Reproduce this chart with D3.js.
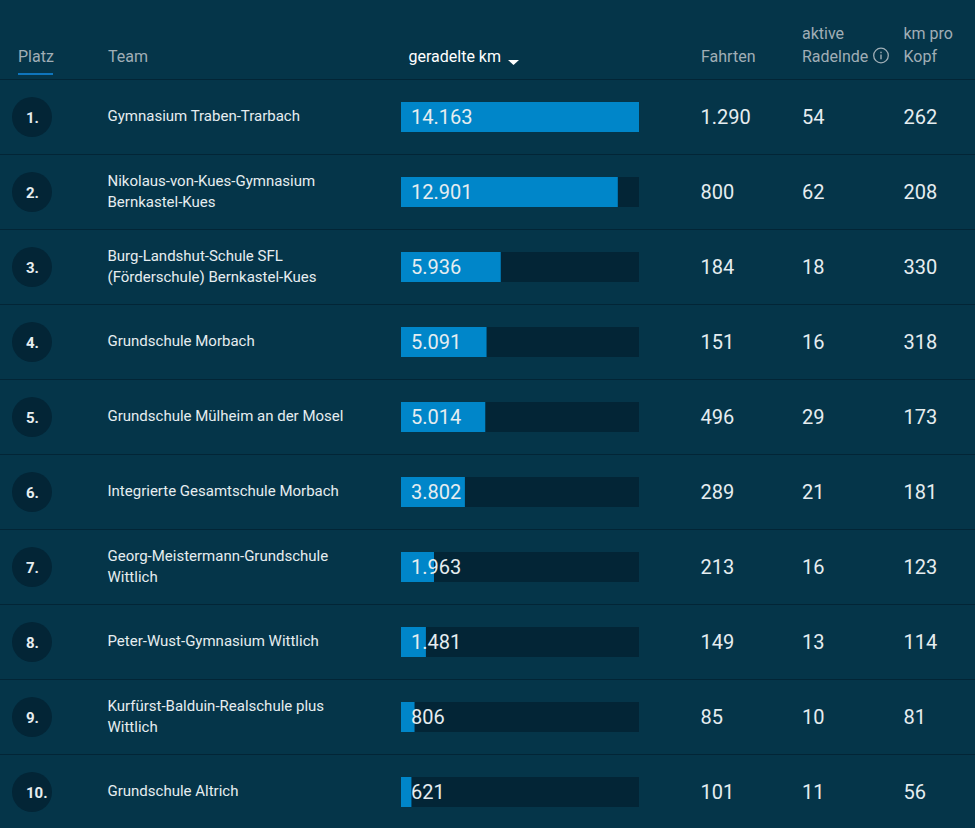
<!DOCTYPE html>
<html>
<head>
<meta charset="utf-8">
<script src="https://cdn.jsdelivr.net/npm/d3@7"></script>
<style>
html, body { margin: 0; padding: 0; background: #053549; overflow: hidden; }
text { font-family: Roboto, sans-serif; }
</style>
</head>
<body>
<div id="chart"></div>
<script>
const ranks = ["1.", "2.", "3.", "4.", "5.", "6.", "7.", "8.", "9.", "10."];
const teams = [
    ["Gymnasium Traben-Trarbach"],
    ["Nikolaus-von-Kues-Gymnasium", "Bernkastel-Kues"],
    ["Burg-Landshut-Schule SFL", "(Förderschule) Bernkastel-Kues"],
    ["Grundschule Morbach"],
    ["Grundschule Mülheim an der Mosel"],
    ["Integrierte Gesamtschule Morbach"],
    ["Georg-Meistermann-Grundschule", "Wittlich"],
    ["Peter-Wust-Gymnasium Wittlich"],
    ["Kurfürst-Balduin-Realschule plus", "Wittlich"],
    ["Grundschule Altrich"]
];
const km = [14163, 12901, 5936, 5091, 5014, 3802, 1963, 1481, 806, 621];
const fahrten = [1290, 800, 184, 151, 496, 289, 213, 149, 85, 101];
const radelnde = [54, 62, 18, 16, 29, 21, 16, 13, 10, 11];
const kmProKopf = [262, 208, 330, 318, 173, 181, 123, 114, 81, 56];

const width = 975, height = 828;
const svg = d3.select("#chart").append("svg")
    .attr("width", width).attr("height", height).style("display", "block");

const y = d3.scaleBand().domain(d3.range(10)).range([79.5, 829.5]);
const x = d3.scaleLinear().domain([0, 14163]).range([0, 238]);
const fmt = d3.formatLocale({decimal: ",", thousands: ".", grouping: [3], currency: ["", ""]}).format(",d");

// Kopfzeile
const header = svg.append("g").attr("font-size", 16).attr("fill", "#a0aeb6");
header.append("text").attr("x", 18).attr("y", 62).text("Platz");
header.append("text").attr("x", 108).attr("y", 62).text("Team");
header.append("text").attr("x", 408.5).attr("y", 62).attr("fill", "#fff").text("geradelte km");
header.append("text").attr("x", 701).attr("y", 62).text("Fahrten");
header.append("text").attr("x", 802).attr("y", 39).text("aktive");
header.append("text").attr("x", 802).attr("y", 62).text("Radelnde");
header.append("text").attr("x", 903.5).attr("y", 39).text("km pro");
header.append("text").attr("x", 903.5).attr("y", 62).text("Kopf");

svg.append("rect").attr("x", 18).attr("y", 73).attr("width", 35).attr("height", 2).attr("fill", "#0f75bc");
svg.append("path").attr("d", d3.line()([[508, 60], [519, 60], [513.5, 65]])).attr("fill", "#fff");

// Info-Symbol
const info = svg.append("g").attr("transform", "translate(881,55.5)");
info.append("circle").attr("r", 7.3).attr("fill", "none").attr("stroke", "#a0aeb6").attr("stroke-width", 1.3);
info.append("rect").attr("x", -0.7).attr("y", -1).attr("width", 1.4).attr("height", 4.8).attr("fill", "#a0aeb6");
info.append("rect").attr("x", -0.7).attr("y", -3.8).attr("width", 1.4).attr("height", 1.5).attr("fill", "#a0aeb6");

// Trennlinien
svg.selectAll("line.sep").data(d3.range(10)).join("line")
    .attr("class", "sep")
    .attr("x1", 0).attr("x2", width)
    .attr("y1", d => y(d)).attr("y2", d => y(d))
    .attr("stroke", "#032536");

// Zeilen
const row = svg.selectAll("g.row").data(d3.range(10)).join("g")
    .attr("class", "row")
    .attr("transform", d => `translate(0,${y(d) - 0.5})`);

row.append("circle").attr("cx", 32).attr("cy", 38).attr("r", 20).attr("fill", "#032536");
row.append("text").attr("x", 26).attr("y", 43.5)
    .attr("font-size", 15).attr("font-weight", 700).attr("fill", "#e6edf0")
    .text(d => ranks[d]);

row.each(function(d) {
    const lines = teams[d];
    d3.select(this).selectAll("text.team").data(lines).join("text")
        .attr("class", "team")
        .attr("x", 107.5)
        .attr("y", (l, i) => lines.length === 1 ? 42 : 32 + 21 * i)
        .attr("font-size", 15).attr("fill", "#e6edf0")
        .text(l => l);
});

row.append("rect").attr("x", 401).attr("y", 23).attr("width", x(14163)).attr("height", 30).attr("fill", "#032536");
row.append("rect").attr("x", 401).attr("y", 23).attr("width", d => x(km[d])).attr("height", 30).attr("fill", "#0086c9");
row.append("text").attr("x", 411).attr("y", 45).attr("font-size", 20).attr("fill", "#e6edf0").text(d => fmt(km[d]));
row.append("text").attr("x", 700.5).attr("y", 45).attr("font-size", 20).attr("fill", "#e6edf0").text(d => fmt(fahrten[d]));
row.append("text").attr("x", 802).attr("y", 45).attr("font-size", 20).attr("fill", "#e6edf0").text(d => radelnde[d]);
row.append("text").attr("x", 903.5).attr("y", 45).attr("font-size", 20).attr("fill", "#e6edf0").text(d => kmProKopf[d]);
</script>
</body>
</html>
